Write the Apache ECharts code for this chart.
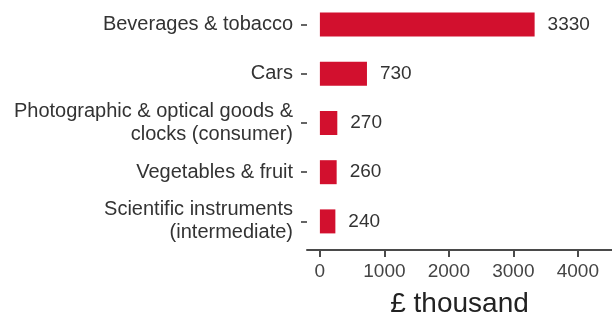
<!DOCTYPE html>
<html>
<head>
<meta charset="utf-8">
<script src="https://cdn.jsdelivr.net/npm/echarts@6/dist/echarts.min.js"></script>
<style>
html,body{margin:0;padding:0;background:#fff;}
#chart{width:612px;height:313px;}
</style>
</head>
<body>
<div id="chart"></div>
<script>
const categories = [
  "Beverages & tobacco",
  "Cars",
  "Photographic & optical goods &\nclocks (consumer)",
  "Vegetables & fruit",
  "Scientific instruments\n(intermediate)"
];
const values = [3330, 730, 270, 260, 240];
const xTicks = [0, 1000, 2000, 3000, 4000];
const xTitle = "£ thousand";

const FONT = "'Liberation Sans', Arial, sans-serif";
const chart = echarts.init(document.getElementById('chart'), null, {renderer: 'canvas'});
chart.setOption({
  animation: false,
  backgroundColor: '#ffffff',
  textStyle: {fontFamily: FONT},
  grid: {left: 307, right: 0, top: 0, height: 246, containLabel: false, outerBoundsMode: 'none'},
  xAxis: {
    type: 'value',
    min: -200,
    max: 4530,
    offset: 4,
    splitLine: {show: false},
    axisLine: {show: true, onZero: false, lineStyle: {color: '#4a4a4a', width: 2}},
    axisTick: {show: true, customValues: xTicks, length: 7, lineStyle: {color: '#4a4a4a', width: 2}},
    axisLabel: {customValues: xTicks, fontSize: 19, color: '#444', margin: 12, fontFamily: FONT,
      formatter: function (v) { return String(v); }},
    name: xTitle,
    nameLocation: 'middle',
    nameGap: 40,
    nameTextStyle: {fontSize: 28, color: '#222', fontFamily: FONT}
  },
  yAxis: {
    type: 'category',
    data: categories,
    inverse: true,
    axisLine: {show: false, onZero: false},
    axisTick: {show: true, alignWithLabel: true, length: 6, lineStyle: {color: '#333', width: 1.5}},
    axisLabel: {fontSize: 20, color: '#333', margin: 14, lineHeight: 23, align: 'right', fontFamily: FONT},
    splitLine: {show: false}
  },
  series: [{
    type: 'bar',
    data: values,
    barWidth: 24,
    itemStyle: {color: '#d2102e'},
    label: {show: true, position: 'right', distance: 13, fontSize: 19, color: '#333', fontFamily: FONT}
  }]
});
</script>
</body>
</html>
